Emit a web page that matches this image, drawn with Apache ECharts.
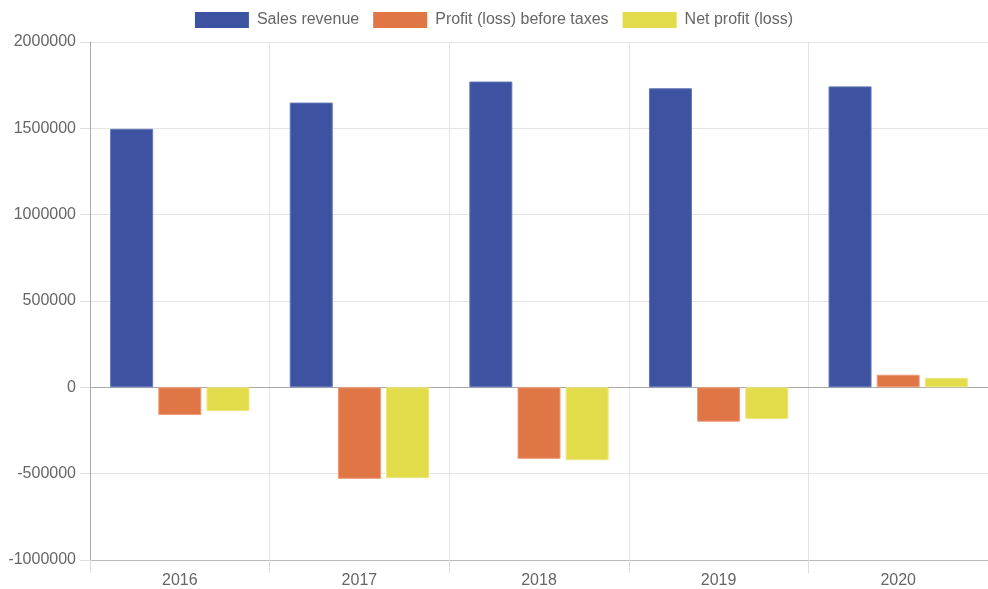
<!DOCTYPE html>
<html>
<head>
<meta charset="utf-8">
<script src="https://cdn.jsdelivr.net/npm/echarts@6/dist/echarts.min.js"></script>
<style>
  html, body { margin: 0; padding: 0; background: #fff; }
  #chart { width: 988px; height: 589px; }
</style>
</head>
<body>
<div id="chart"></div>
<script>
const years = ['2016', '2017', '2018', '2019', '2020'];
const salesRevenue = [1497000, 1649000, 1771000, 1732000, 1743000];
const profitBeforeTaxes = [-160000, -530000, -414000, -199000, 73000];
const netProfit = [-137000, -526000, -422000, -183000, 55000];
const seriesNames = ['Sales revenue', 'Profit (loss) before taxes', 'Net profit (loss)'];

const font = 'Liberation Sans, Arial, Helvetica, sans-serif';
const colors = ['#3d52a1', '#e07646', '#e3dc4a'];
const borders = ['#6476b8', '#ee9a74', '#ece77f'];

let myChart = echarts.init(document.getElementById('chart'));

function bar(name, data, i) {
    return {
        name: name,
        type: 'bar',
        data: data,
        barWidth: 43,
        barGap: '12%',
        itemStyle: {
            color: colors[i],
            borderColor: borders[i],
            borderWidth: 1
        }
    };
}

let option = {
    animation: false,
    legend: {
        top: 7,
        left: 'center',
        itemWidth: 54,
        itemHeight: 16,
        itemGap: 14,
        icon: 'rect',
        data: seriesNames,
        itemStyle: { borderWidth: 0 },
        textStyle: { color: '#666', fontSize: 16, fontFamily: font, padding: [0, 0, 0, 3] }
    },
    grid: { left: 90, right: 0, top: 42, bottom: 29, outerBoundsMode: 'none' },
    xAxis: [{
        type: 'category',
        data: years,
        axisLine: { onZero: false, lineStyle: { color: '#bbb' } },
        axisTick: { show: true, length: 13, lineStyle: { color: '#ddd' } },
        axisLabel: { color: '#666', fontSize: 16, fontFamily: font, margin: 13 },
        splitLine: { show: true, lineStyle: { color: '#e4e4e4' } }
    }, {
        type: 'category',
        data: years,
        position: 'bottom',
        axisLine: { onZero: true, lineStyle: { color: '#aaa' } },
        axisTick: { show: false },
        axisLabel: { show: false },
        splitLine: { show: false }
    }],
    yAxis: {
        type: 'value',
        min: -1000000,
        max: 2000000,
        interval: 500000,
        axisLine: { show: true, lineStyle: { color: '#aaa' } },
        axisTick: { show: true, length: 10, lineStyle: { color: '#ddd' } },
        axisLabel: {
            color: '#666', fontSize: 16, fontFamily: font, margin: 14,
            formatter: v => String(v)
        },
        splitLine: { show: true, lineStyle: { color: '#e4e4e4' } }
    },
    series: [
        bar(seriesNames[0], salesRevenue, 0),
        bar(seriesNames[1], profitBeforeTaxes, 1),
        bar(seriesNames[2], netProfit, 2)
    ]
};

myChart.setOption(option);
</script>
</body>
</html>
